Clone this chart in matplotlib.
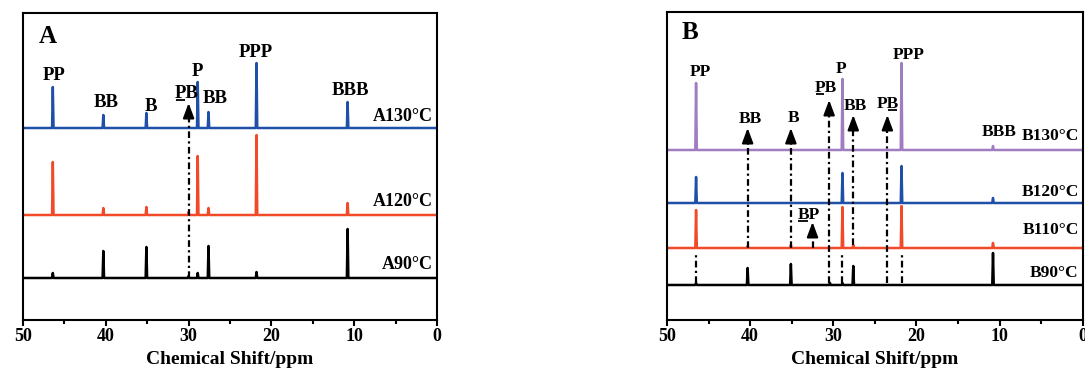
import numpy as np
import matplotlib
matplotlib.use('Agg')
import matplotlib.pyplot as plt

plt.rcParams['font.family'] = ['Liberation Serif', 'DejaVu Serif']
plt.rcParams['font.weight'] = 'bold'

# Panel A spectra: peak positions (ppm) and heights (arb. units)
a_peaks = [46.4, 40.3, 35.1, 30.0, 28.9, 27.6, 21.8, 10.8]
a130_h = [41, 13, 15, 0, 46, 16, 65, 26]
a120_h = [53, 7, 8, 3, 59, 7, 80, 12]
a90_h = [5, 27, 31, 2, 5, 32, 6, 49]
a_names = ['A130°C', 'A120°C', 'A90°C']
a_offsets = [192, 105, 42]

# Panel B spectra
b_peaks = [46.5, 40.3, 35.1, 30.4, 28.9, 27.6, 21.8, 10.8]
b130_h = [67, 0, 0, 0, 71, 0, 87, 4]
b120_h = [26, 0, 0, 0, 30, 0, 37, 5]
b110_h = [38, 2, 3, 0, 41, 3, 42, 5]
b90_h = [2, 17, 21, 2, 2, 19, 0, 32]
b_names = ['B130°C', 'B120°C', 'B110°C', 'B90°C']
b_offsets = [170, 117, 72, 35]

BLUE = '#1f4fa6'
RED = '#f24a28'
PURPLE = '#a07cc0'


def spectrum(peaks, heights, w=0.09):
    xs = [50.0]
    ys = [0.0]
    for p, h in sorted(zip(peaks, heights), reverse=True):
        xs += [p + w, p, p - w]
        ys += [0, h, 0]
    xs.append(0.0)
    ys.append(0.0)
    return np.array(xs), np.array(ys)


def setup(ax, ytop):
    ax.set_xlim(50, 0)
    ax.set_ylim(0, ytop)
    ax.set_yticks([])
    ax.set_xticks([50, 40, 30, 20, 10, 0])
    ax.set_xticks([45, 35, 25, 15, 5], minor=True)
    ax.tick_params(axis='x', which='major', length=4, width=1.5, labelsize=13, pad=2)
    ax.tick_params(axis='x', which='minor', length=3, width=1.5)
    for lab in ax.get_xticklabels():
        lab.set_fontweight('bold')
    for s in ax.spines.values():
        s.set_linewidth(1.5)
    ax.set_xlabel('Chemical Shift/ppm', fontsize=14, fontweight='bold', labelpad=4)


def dash_arrow(ax, x, y0, y1, head=True):
    ax.plot([x, x], [y0, y1 - (6 if head else 0)], color='k', lw=1.6,
            ls=(0, (3, 1.5, 1, 1.5)), solid_capstyle='butt')
    if head:
        ax.annotate('', xy=(x, y1), xytext=(x, y1 - 8),
                    arrowprops=dict(arrowstyle='-|>,head_length=0.75,head_width=0.28',
                                    color='k', lw=1.5, mutation_scale=12, shrinkA=0, shrinkB=0))


labels_to_underline = []


def underlined(ax, x, y, text, idx, size):
    t = ax.text(x, y, text, ha='center', va='center', fontsize=size, fontweight='bold')
    labels_to_underline.append((ax, t, text, idx, size))


fig = plt.figure(figsize=(10.85, 3.75), dpi=100)
axA = fig.add_axes([0.0212, 0.1467, 0.3816, 0.8186])
axB = fig.add_axes([0.6147, 0.1467, 0.3833, 0.8213])

# ---- Panel A ----
setup(axA, 307)
for h, off, col in zip([a130_h, a120_h, a90_h], a_offsets, [BLUE, RED, 'k']):
    x, y = spectrum(a_peaks, h)
    axA.plot(x, y + off, color=col, lw=1.8)
for name, yy in zip(a_names, [204, 118, 55]):
    axA.text(0.5, yy, name, ha='right', va='center', fontsize=13, fontweight='bold')

dash_arrow(axA, 30.0, 42, 217)
fsA = 13.5
for txt, x, y in [('PP', 46.2, 245), ('BB', 40.0, 218), ('B', 34.5, 214), ('P', 29.0, 249),
                  ('BB', 26.8, 222), ('PPP', 21.9, 268), ('BBB', 10.4, 230)]:
    axA.text(x, y, txt, ha='center', va='center', fontsize=fsA, fontweight='bold')
underlined(axA, 30.2, 227, 'PB', 0, fsA)
axA.text(47.0, 284, 'A', ha='center', va='center', fontsize=18, fontweight='bold')

# ---- Panel B ----
setup(axB, 308)
for h, off, col in zip([b130_h, b120_h, b110_h, b90_h], b_offsets, [PURPLE, BLUE, RED, 'k']):
    x, y = spectrum(b_peaks, h)
    axB.plot(x, y + off, color=col, lw=1.8)
for name, yy in zip(b_names, [184, 128, 90, 47]):
    axB.text(0.5, yy, name, ha='right', va='center', fontsize=12.5, fontweight='bold')

for x, y0, y1 in [(40.3, 72, 192), (35.1, 72, 192), (30.5, 37, 220), (27.6, 75, 205),
                  (23.5, 37, 205), (32.5, 72, 98)]:
    dash_arrow(axB, x, y0, y1)
for x in [46.5, 28.9, 21.8]:
    dash_arrow(axB, x, 37, 68, head=False)

fsB = 12.5
for txt, x, y in [('PP', 46.0, 248), ('P', 29.1, 251), ('PPP', 21.0, 265), ('BBB', 10.0, 188),
                  ('BB', 40.0, 201), ('B', 34.8, 202), ('BB', 27.3, 214)]:
    axB.text(x, y, txt, ha='center', va='center', fontsize=fsB, fontweight='bold')
underlined(axB, 30.9, 232, 'PB', 0, fsB)
underlined(axB, 23.5, 216, 'PB', 1, fsB)
underlined(axB, 33.0, 105, 'BP', 0, fsB)
axB.text(47.2, 287, 'B', ha='center', va='center', fontsize=18, fontweight='bold')

# underline single characters after layout is fixed
fig.canvas.draw()
r = fig.canvas.get_renderer()
for ax, t, text, idx, size in labels_to_underline:
    bb = t.get_window_extent(r)

    def width(s):
        if not s:
            return 0.0
        tmp = ax.text(0, 0, s, fontsize=size, fontweight='bold')
        w = tmp.get_window_extent(r).width
        tmp.remove()
        return w
    x0 = bb.x0 + width(text[:idx])
    x1 = bb.x0 + width(text[:idx + 1])
    yline = bb.y0 + 1.5
    inv = ax.transData.inverted()
    (dx0, dy), (dx1, _) = inv.transform([(x0 + 1, yline), (x1 - 1, yline)])
    ax.plot([dx0, dx1], [dy, dy], color='k', lw=1.3, solid_capstyle='butt')

fig.savefig('out.png', dpi=100)
